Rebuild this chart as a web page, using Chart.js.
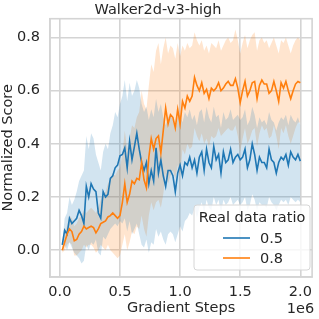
<!DOCTYPE html>
<html>
<head>
<meta charset="utf-8">
<script src="https://cdn.jsdelivr.net/npm/chart.js@4.4.1/dist/chart.umd.min.js"></script>
<style>
  html, body { margin: 0; padding: 0; background: #fff; }
  #wrap { width: 319px; height: 319px; }
</style>
</head>
<body>
<div id="wrap"><canvas id="chart" width="319" height="319"></canvas></div>
<script>
// Walker2d-v3-high, normalized score vs gradient steps (2 real-data ratios)

const chartTitle = 'Walker2d-v3-high';
const legendTitle = 'Real data ratio';
const seriesNames = ['0.5', '0.8'];
const xTicks = [0, 500000, 1000000, 1500000, 2000000];
const yTicks = [0.0, 0.2, 0.4, 0.6, 0.8];

// evaluation every 20k steps, 100 points
const steps = Array.from({ length: 100 }, (_, i) => (i + 1) * 20000);

const mean05 = [
  0.02, 0.075, 0.06, 0.12, 0.10, 0.11, 0.12, 0.15, 0.13, 0.10,
  0.24, 0.20, 0.25, 0.23, 0.22, 0.14, 0.12, 0.22, 0.20, 0.21,
  0.27, 0.28, 0.31, 0.32, 0.355, 0.36, 0.385, 0.31, 0.41, 0.34,
  0.39, 0.44, 0.38, 0.33, 0.30, 0.33, 0.25, 0.30, 0.26, 0.385,
  0.29, 0.34, 0.28, 0.24, 0.30, 0.30, 0.28, 0.22, 0.29, 0.32,
  0.28, 0.33, 0.32, 0.35, 0.31, 0.34, 0.29, 0.35, 0.37, 0.30,
  0.38, 0.33, 0.31, 0.39, 0.34, 0.36, 0.29, 0.37, 0.33, 0.34,
  0.38, 0.33, 0.35, 0.36, 0.34, 0.35, 0.38, 0.31, 0.34, 0.40,
  0.36, 0.30, 0.35, 0.33, 0.33, 0.31, 0.38, 0.34, 0.33, 0.29,
  0.33, 0.35, 0.34, 0.36, 0.32, 0.37, 0.35, 0.34, 0.36, 0.335
];
const upper05 = [
  0.03, 0.12, 0.14, 0.20, 0.17, 0.19, 0.22, 0.26, 0.28, 0.30,
  0.43, 0.38, 0.44, 0.42, 0.36, 0.33, 0.30, 0.37, 0.40, 0.38,
  0.44, 0.47, 0.52, 0.50, 0.55, 0.58, 0.64, 0.56, 0.63, 0.58,
  0.60, 0.64, 0.61, 0.55, 0.52, 0.54, 0.49, 0.53, 0.50, 0.57,
  0.52, 0.55, 0.50, 0.47, 0.50, 0.51, 0.49, 0.45, 0.50, 0.51,
  0.48, 0.52, 0.50, 0.53, 0.49, 0.51, 0.47, 0.52, 0.53, 0.48,
  0.54, 0.50, 0.48, 0.54, 0.50, 0.51, 0.46, 0.52, 0.49, 0.50,
  0.53, 0.49, 0.50, 0.51, 0.49, 0.50, 0.53, 0.47, 0.49, 0.54,
  0.51, 0.46, 0.50, 0.48, 0.49, 0.47, 0.52, 0.49, 0.48, 0.45,
  0.48, 0.50, 0.49, 0.51, 0.47, 0.51, 0.49, 0.48, 0.50, 0.47
];
const lower05 = [
  0.01, 0.02, 0.00, 0.03, 0.01, -0.01, -0.02, -0.03, -0.05, -0.04,
  0.02, 0.00, 0.03, 0.02, 0.04, -0.01, -0.02, 0.05, 0.04, 0.06,
  0.08, 0.09, 0.10, 0.09, 0.11, 0.10, 0.12, 0.07, 0.11, 0.06,
  0.08, 0.10, 0.06, 0.02, 0.01, 0.04, -0.01, 0.03, 0.02, 0.08,
  0.05, 0.07, 0.04, 0.02, 0.06, 0.07, 0.06, 0.03, 0.06, 0.09,
  0.07, 0.11, 0.12, 0.14, 0.13, 0.16, 0.12, 0.16, 0.18, 0.14,
  0.19, 0.16, 0.15, 0.20, 0.17, 0.19, 0.14, 0.19, 0.17, 0.18,
  0.20, 0.17, 0.18, 0.19, 0.17, 0.18, 0.20, 0.15, 0.17, 0.21,
  0.19, 0.15, 0.18, 0.17, 0.17, 0.16, 0.20, 0.18, 0.17, 0.15,
  0.17, 0.19, 0.18, 0.19, 0.17, 0.20, 0.19, 0.18, 0.19, 0.18
];

const mean08 = [
  0.00, 0.03, 0.06, 0.08, 0.07, 0.035, 0.04, 0.06, 0.07, 0.09,
  0.08, 0.085, 0.09, 0.085, 0.065, 0.08, 0.10, 0.105, 0.11, 0.125,
  0.13, 0.14, 0.13, 0.12, 0.13, 0.18, 0.25, 0.18, 0.21, 0.26,
  0.25, 0.27, 0.265, 0.33, 0.265, 0.235, 0.35, 0.42, 0.38, 0.42,
  0.43, 0.365, 0.45, 0.535, 0.475, 0.51, 0.50, 0.46, 0.53, 0.475,
  0.56, 0.535, 0.58, 0.56, 0.58, 0.65, 0.62, 0.60, 0.63, 0.59,
  0.605, 0.57, 0.61, 0.60, 0.61, 0.63, 0.60, 0.61, 0.625, 0.635,
  0.62, 0.62, 0.645, 0.61, 0.555, 0.60, 0.635, 0.58, 0.60, 0.63,
  0.635, 0.57, 0.62, 0.64, 0.625, 0.625, 0.59, 0.60, 0.635, 0.60,
  0.56, 0.63, 0.61, 0.635, 0.60, 0.57, 0.60, 0.625, 0.635, 0.63
];
const upper08 = [
  0.01, 0.06, 0.09, 0.13, 0.12, 0.09, 0.10, 0.12, 0.13, 0.15,
  0.14, 0.15, 0.16, 0.15, 0.14, 0.16, 0.19, 0.21, 0.22, 0.25,
  0.27, 0.29, 0.28, 0.30, 0.31, 0.36, 0.45, 0.38, 0.42, 0.47,
  0.46, 0.50, 0.52, 0.60, 0.55, 0.53, 0.62, 0.70, 0.67, 0.75,
  0.78, 0.70, 0.76, 0.80, 0.74, 0.77, 0.76, 0.72, 0.78, 0.73,
  0.77, 0.75, 0.78, 0.76, 0.77, 0.82, 0.79, 0.77, 0.79, 0.75,
  0.77, 0.74, 0.78, 0.77, 0.76, 0.79, 0.75, 0.77, 0.79, 0.80,
  0.78, 0.79, 0.83, 0.79, 0.74, 0.78, 0.81, 0.76, 0.79, 0.81,
  0.82, 0.75, 0.79, 0.80, 0.78, 0.79, 0.76, 0.78, 0.80, 0.77,
  0.74, 0.79, 0.78, 0.80, 0.77, 0.74, 0.77, 0.79, 0.80, 0.79
];
const lower08 = [
  -0.01, 0.00, 0.02, 0.03, 0.02, -0.02, -0.02, -0.01, 0.00, 0.02,
  0.01, 0.02, 0.02, 0.01, -0.01, 0.00, 0.02, 0.01, 0.00, 0.02,
  0.00, -0.01, -0.02, -0.03, -0.02, 0.02, 0.06, 0.00, 0.03, 0.07,
  0.06, 0.09, 0.08, 0.13, 0.08, 0.05, 0.13, 0.18, 0.15, 0.18,
  0.19, 0.16, 0.21, 0.29, 0.25, 0.28, 0.30, 0.27, 0.32, 0.28,
  0.38, 0.36, 0.40, 0.38, 0.39, 0.46, 0.43, 0.41, 0.44, 0.40,
  0.42, 0.39, 0.43, 0.42, 0.43, 0.46, 0.43, 0.44, 0.45, 0.46,
  0.45, 0.45, 0.47, 0.43, 0.37, 0.42, 0.46, 0.40, 0.42, 0.45,
  0.46, 0.39, 0.44, 0.47, 0.45, 0.46, 0.42, 0.43, 0.47, 0.43,
  0.38, 0.46, 0.44, 0.47, 0.43, 0.40, 0.43, 0.46, 0.48, 0.48
];

const blue = '#1f77b4';
const orange = '#ff7f0e';
const textColor = '#262626';
const gridColor = '#d4d4d4';
const fontFamily = '"DejaVu Sans", sans-serif';
const fontSize = 14.5;

function pts(values) {
  return steps.map((x, i) => ({ x: x, y: values[i] }));
}

function band(values, color, fill) {
  return {
    data: pts(values),
    borderWidth: 0,
    pointRadius: 0,
    backgroundColor: color,
    fill: fill,
    order: 2
  };
}

// frame, legend box and offset text "1e6", matplotlib style
const extrasPlugin = {
  id: 'extras',
  afterDraw(chart) {
    const ctx = chart.ctx;
    const area = chart.chartArea;
    ctx.save();
    ctx.strokeStyle = gridColor;
    ctx.lineWidth = 1.6;
    ctx.strokeRect(area.left, area.top, area.right - area.left, area.bottom - area.top);

    ctx.font = fontSize + 'px ' + fontFamily;
    ctx.fillStyle = textColor;
    ctx.textAlign = 'right';
    ctx.textBaseline = 'middle';
    ctx.fillText('1e6', area.right + 2, 309);

    const bx = 194, by = 205, bw = 116, bh = 65;
    ctx.beginPath();
    ctx.roundRect(bx, by, bw, bh, 3);
    ctx.fillStyle = 'rgba(255,255,255,0.8)';
    ctx.fill();
    ctx.strokeStyle = '#d6d6d6';
    ctx.lineWidth = 1;
    ctx.stroke();

    ctx.fillStyle = textColor;
    ctx.textAlign = 'center';
    ctx.fillText(legendTitle, bx + bw / 2, 218);
    const colors = [blue, orange];
    seriesNames.forEach((name, i) => {
      const y = 238 + i * 20;
      ctx.beginPath();
      ctx.moveTo(223, y);
      ctx.lineTo(250, y);
      ctx.strokeStyle = colors[i];
      ctx.lineWidth = 1.6;
      ctx.stroke();
      ctx.fillStyle = textColor;
      ctx.textAlign = 'left';
      ctx.fillText(name, 260, y + 1);
    });
    ctx.restore();
  }
};

const ctx = document.getElementById('chart').getContext('2d');
new Chart(ctx, {
  type: 'line',
  data: {
    datasets: [
      band(upper05, 'rgba(31,119,180,0.2)', false),
      band(lower05, 'rgba(31,119,180,0.2)', '-1'),
      band(upper08, 'rgba(255,127,14,0.2)', false),
      band(lower08, 'rgba(255,127,14,0.2)', '-1'),
      { label: seriesNames[0], data: pts(mean05), borderColor: blue, borderWidth: 1.6, pointRadius: 0, fill: false, order: 1 },
      { label: seriesNames[1], data: pts(mean08), borderColor: orange, borderWidth: 1.6, pointRadius: 0, fill: false, order: 0 }
    ]
  },
  options: {
    responsive: false,
    animation: false,
    layout: { padding: { left: 0, right: 3, top: 0, bottom: 0 } },
    plugins: {
      legend: { display: false },
      tooltip: { enabled: false },
      filler: { drawTime: 'beforeDatasetsDraw' },
      title: {
        display: true,
        text: chartTitle,
        color: textColor,
        font: { family: fontFamily, size: fontSize, weight: 'normal' },
        padding: { top: 0, bottom: 0 }
      }
    },
    scales: {
      x: {
        type: 'linear',
        min: -82000,
        max: 2098000,
        afterBuildTicks: axis => { axis.ticks = xTicks.map(v => ({ value: v })); },
        afterFit: axis => { axis.height = 42; },
        ticks: {
          color: textColor,
          font: { family: fontFamily, size: fontSize },
          padding: 7,
          maxRotation: 0,
          callback: v => (v / 1e6).toFixed(1)
        },
        grid: { color: gridColor, lineWidth: 1.6, drawTicks: false },
        border: { color: gridColor, width: 1.6 },
        title: {
          display: true,
          text: 'Gradient Steps',
          color: textColor,
          font: { family: fontFamily, size: fontSize },
          padding: { top: 0, bottom: 2 }
        }
      },
      y: {
        min: -0.101,
        max: 0.871,
        afterBuildTicks: axis => { axis.ticks = yTicks.map(v => ({ value: v })); },
        afterFit: axis => { axis.width = 50; },
        ticks: {
          color: textColor,
          font: { family: fontFamily, size: fontSize },
          padding: 10,
          callback: v => v.toFixed(1)
        },
        grid: { color: gridColor, lineWidth: 1.6, drawTicks: false },
        border: { color: gridColor, width: 1.6 },
        title: {
          display: true,
          text: 'Normalized Score',
          color: textColor,
          font: { family: fontFamily, size: fontSize },
          padding: { top: 0, bottom: 0 }
        }
      }
    }
  },
  plugins: [extrasPlugin]
});
</script>
</body>
</html>
